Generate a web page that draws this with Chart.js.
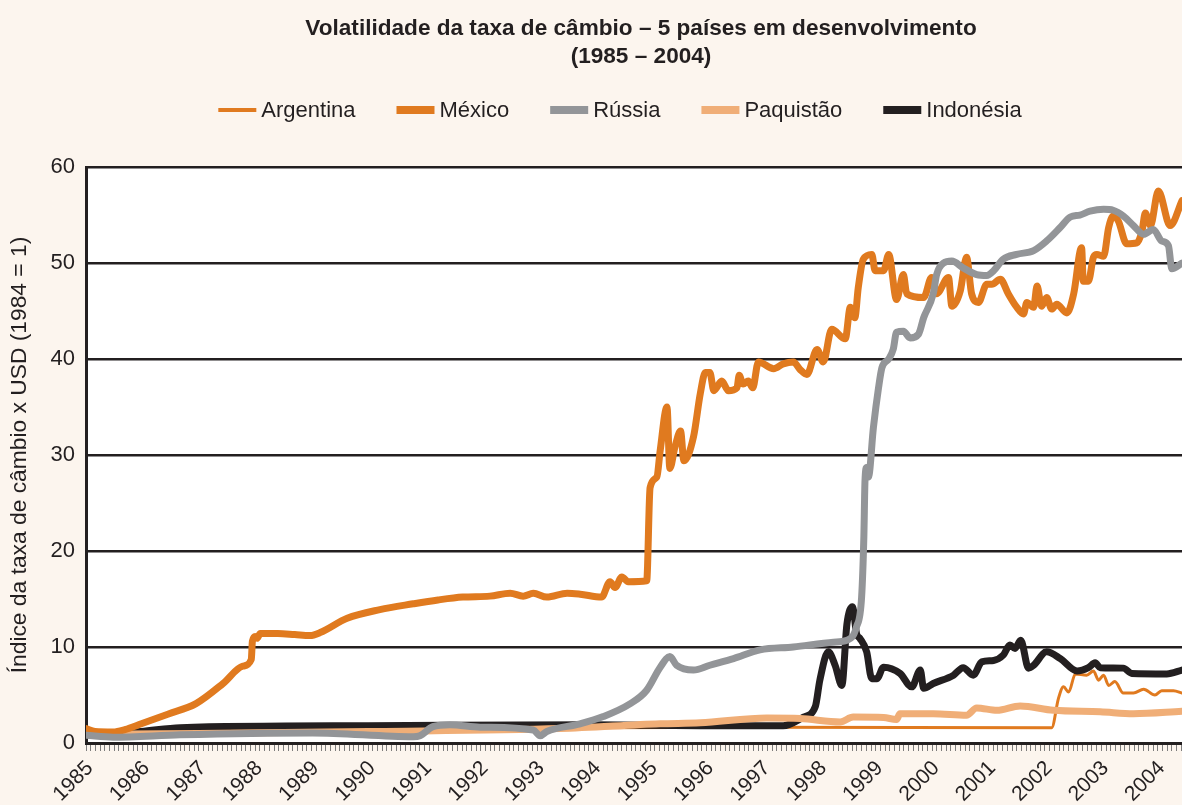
<!DOCTYPE html>
<html lang="pt">
<head>
<meta charset="utf-8">
<title>Volatilidade da taxa de câmbio</title>
<script src="https://cdn.jsdelivr.net/npm/chart.js@4.4.1/dist/chart.umd.min.js"></script>
<style>
  html, body { margin: 0; padding: 0; background: #fcf5ee; overflow: hidden; }
  #wrap { position: relative; width: 1182px; height: 805px; }
</style>
</head>
<body>
<div id="wrap"><canvas id="fxChart" width="1182" height="805"></canvas></div>
<script>
// Data (x = year as decimal, y = index 1984 = 1)
const yearLabels = ['1985', '1986', '1987', '1988', '1989', '1990', '1991', '1992', '1993', '1994',
                    '1995', '1996', '1997', '1998', '1999', '2000', '2001', '2002', '2003', '2004'];
const yTicks = [0, 10, 20, 30, 40, 50, 60];

const argentinaX = [1985.0, 1986.0, 1988.0, 1991.0, 1994.0, 1997.0, 2002.12, 2002.24, 2002.33, 2002.42, 2002.54,
                    2002.74, 2002.86, 2002.95, 2003.04, 2003.13, 2003.24, 2003.39, 2003.57, 2003.75, 2003.95,
                    2004.07, 2004.28, 2004.43];
const argentinaY = [1.2, 1.1, 1.2, 1.5, 1.6, 1.65, 1.6, 4.65, 5.85, 5.3, 7.2,
                    7.07, 7.5, 6.55, 7.07, 6.0, 6.4, 5.2, 5.2, 5.6, 5.0,
                    5.45, 5.45, 5.2];

const mexicoX = [1985.0, 1985.16, 1985.48, 1985.69, 1985.98, 1986.45, 1986.95, 1987.43, 1987.78, 1987.93, 1987.95,
                 1988.0, 1988.03, 1988.09, 1988.4, 1988.7, 1988.97, 1989.15, 1989.63, 1990.21, 1990.8, 1991.24,
                 1991.68, 1992.16, 1992.52, 1992.75, 1992.93, 1993.17, 1993.53, 1993.76, 1994.14, 1994.29,
                 1994.38, 1994.5, 1994.61, 1994.94, 1995.0, 1995.12, 1995.18, 1995.3, 1995.35, 1995.44,
                 1995.54, 1995.6, 1995.77, 1995.89, 1995.98, 1996.06, 1996.13, 1996.27, 1996.39, 1996.54,
                 1996.58, 1996.65, 1996.74, 1996.82, 1996.92, 1997.19, 1997.36, 1997.54, 1997.66, 1997.78,
                 1997.96, 1998.07, 1998.22, 1998.46, 1998.55, 1998.63, 1998.69, 1998.78, 1998.93, 1998.99,
                 1999.14, 1999.23, 1999.37, 1999.49, 1999.55, 1999.85, 1999.99, 2000.08, 2000.29, 2000.35,
                 2000.5, 2000.61, 2000.7, 2000.82, 2000.97, 2001.06, 2001.21, 2001.35, 2001.5, 2001.62,
                 2001.68, 2001.8, 2001.86, 2001.94, 2002.03, 2002.12, 2002.21, 2002.39, 2002.51, 2002.65,
                 2002.68, 2002.77, 2002.86, 2002.92, 2003.04, 2003.13, 2003.21, 2003.3, 2003.45, 2003.63,
                 2003.72, 2003.78, 2003.87, 2004.01, 2004.22, 2004.43];
const mexicoY = [1.5, 1.2, 1.15, 1.4, 2.0, 3.0, 4.1, 6.2, 8.0, 8.7, 10.6,
                 11.1, 10.9, 11.4, 11.4, 11.3, 11.2, 11.5, 13.0, 13.9, 14.5, 14.9,
                 15.2, 15.3, 15.6, 15.3, 15.6, 15.2, 15.6, 15.5, 15.2, 16.8,
                 16.2, 17.3, 16.8, 16.9, 26.6, 27.7, 30.5, 35.0, 28.6, 30.8,
                 32.5, 29.4, 31.9, 36.4, 38.6, 38.6, 36.7, 37.7, 36.7, 37.0,
                 38.3, 37.4, 37.7, 37.0, 39.7, 39.0, 39.5, 39.7, 38.9, 38.4,
                 41.0, 39.7, 43.1, 42.1, 45.4, 44.3, 47.4, 50.4, 50.9, 49.2,
                 49.2, 50.9, 46.2, 48.8, 46.8, 46.4, 48.5, 46.8, 48.5, 45.5,
                 47.1, 50.6, 46.8, 45.9, 47.8, 47.8, 48.3, 46.8, 45.4, 44.7,
                 45.9, 45.4, 47.6, 45.5, 46.4, 45.2, 45.7, 44.8, 46.8, 51.6,
                 48.1, 48.1, 50.6, 50.9, 50.7, 53.7, 54.9, 54.4, 52.0, 52.1,
                 53.3, 55.2, 53.9, 57.5, 53.9, 56.5];

const russiaX = [1985.0, 1985.48, 1986.67, 1989.02, 1990.8, 1990.92, 1991.15, 1991.45, 1991.99, 1992.93, 1993.05,
                 1993.17, 1993.76, 1994.17, 1994.65, 1994.94, 1995.18, 1995.35, 1995.47, 1995.77, 1996.06,
                 1996.48, 1996.95, 1997.54, 1998.25, 1998.49, 1998.66, 1998.75, 1998.79, 1998.81, 1998.84,
                 1998.87, 1998.96, 1999.05, 1999.11, 1999.23, 1999.31, 1999.37, 1999.49, 1999.61, 1999.76,
                 1999.85, 2000.02, 2000.08, 2000.2, 2000.35, 2000.55, 2000.79, 2000.97, 2001.09, 2001.26,
                 2001.5, 2001.8, 2002.03, 2002.27, 2002.45, 2002.62, 2002.8, 2003.04, 2003.21, 2003.39,
                 2003.57, 2003.75, 2003.92, 2004.07, 2004.19, 2004.25, 2004.43];
const russiaY = [0.8, 0.6, 0.85, 1.05, 0.65, 0.75, 1.7, 1.9, 1.65, 1.35, 0.75,
                 1.2, 2.0, 2.75, 4.1, 5.5, 7.9, 9.0, 8.1, 7.6, 8.1,
                 8.8, 9.7, 10.0, 10.5, 10.7, 12.1, 15.2, 21.5, 27.3, 28.7,
                 27.7, 32.9, 37.0, 39.1, 40.0, 41.0, 42.8, 42.9, 42.2, 42.6,
                 44.3, 46.8, 48.8, 50.0, 50.2, 49.5, 48.8, 48.7, 49.2, 50.4,
                 50.9, 51.3, 52.3, 53.7, 54.8, 55.0, 55.4, 55.6, 55.5, 54.9,
                 53.9, 53.0, 53.5, 52.3, 51.8, 49.4, 50.0];

const pakistanX = [1985.0, 1987.0, 1990.0, 1993.4, 1995.18, 1995.89, 1997.07, 1997.66, 1998.37, 1998.6, 1999.14,
                   1999.37, 1999.43, 2000.02, 2000.61, 2000.79, 2001.15, 2001.56, 2002.15, 2002.98, 2003.57,
                   2004.43];
const pakistanY = [0.9, 1.0, 1.2, 1.5, 2.0, 2.1, 2.6, 2.55, 2.2, 2.7, 2.65,
                   2.45, 3.05, 3.05, 2.9, 3.65, 3.4, 3.85, 3.4, 3.25, 3.05,
                   3.3];

const indonesiaX = [1985.0, 1985.48, 1985.98, 1986.67, 1990.0, 1994.0, 1995.89, 1997.36, 1997.72, 1997.93, 1998.01,
                    1998.16, 1998.28, 1998.4, 1998.49, 1998.59, 1998.66, 1998.72, 1998.84, 1998.93, 1999.02,
                    1999.14, 1999.43, 1999.64, 1999.79, 1999.85, 2000.02, 2000.38, 2000.55, 2000.73, 2000.88,
                    2001.09, 2001.26, 2001.38, 2001.47, 2001.57, 2001.71, 2001.8, 2002.03, 2002.27, 2002.57,
                    2002.77, 2002.89, 2002.98, 2003.39, 2003.54, 2004.16, 2004.43];
const indonesiaY = [0.9, 1.0, 1.2, 1.6, 1.8, 1.9, 1.8, 1.8, 2.7, 3.8, 6.55,
                    9.5, 8.1, 6.0, 12.4, 14.2, 11.4, 10.9, 9.5, 6.7, 6.7,
                    7.9, 7.25, 5.85, 7.6, 5.7, 6.2, 7.07, 7.85, 7.07, 8.45,
                    8.6, 9.15, 10.2, 9.85, 10.7, 7.8, 8.1, 9.5, 8.8, 7.5,
                    7.85, 8.35, 7.85, 7.8, 7.25, 7.2, 7.6];

const xMin = 1985;
const xMax = 2004.43;

const ink = '#231f20';
const font = 'Liberation Sans, Arial, Helvetica, sans-serif';

function points(xs, ys) {
    return xs.map((x, i) => ({ x: x, y: ys[i] }));
}

function series(label, xs, ys, color, width, order) {
    return {
        label: label,
        data: points(xs, ys),
        borderColor: color,
        backgroundColor: color,
        borderWidth: width,
        pointRadius: 0,
        cubicInterpolationMode: 'monotone',
        borderJoinStyle: 'round',
        borderCapStyle: 'round',
        order: order
    };
}

// white plotting area
const plotBackground = {
    id: 'plotBackground',
    beforeDraw(chart) {
        const a = chart.chartArea;
        chart.ctx.save();
        chart.ctx.fillStyle = '#ffffff';
        chart.ctx.fillRect(a.left, a.top, a.right - a.left, a.bottom - a.top);
        chart.ctx.restore();
    }
};

// the original title sits to the right of the window centre
const shiftTitle = {
    id: 'shiftTitle',
    afterLayout(chart) {
        if (chart.titleBlock) {
            chart.titleBlock.left += 50;
            chart.titleBlock.right += 50;
        }
    }
};

// legend row: bar marker + label, drawn in dataset order
const lineLegend = {
    id: 'lineLegend',
    afterDraw(chart) {
        const ctx = chart.ctx;
        const sets = chart.data.datasets;
        const markW = 38, gap = 5, spacing = 41, centreX = 620, y = 111;
        ctx.save();
        ctx.font = '22px ' + font;
        let total = 0;
        sets.forEach((d, i) => {
            total += markW + gap + ctx.measureText(d.label).width + (i ? spacing : 0);
        });
        let x = centreX - total / 2;
        ctx.textBaseline = 'middle';
        ctx.textAlign = 'left';
        sets.forEach(d => {
            const h = d.borderWidth + 1;
            ctx.fillStyle = d.borderColor;
            ctx.fillRect(x, y - 1 - h / 2, markW, h);
            x += markW + gap;
            ctx.fillStyle = ink;
            ctx.fillText(d.label, x, y);
            x += ctx.measureText(d.label).width + spacing;
        });
        ctx.restore();
    }
};

let chart = null;

function initChart() {
    const ctx = document.getElementById('fxChart').getContext('2d');

    chart = new Chart(ctx, {
        type: 'line',
        data: {
            datasets: [
                series('Argentina', argentinaX, argentinaY, '#e07a1f', 3, 5),
                series('México', mexicoX, mexicoY, '#e07a1f', 7, 2),
                series('Rússia', russiaX, russiaY, '#939598', 7, 1),
                series('Paquistão', pakistanX, pakistanY, '#f0ae77', 7, 3),
                series('Indonésia', indonesiaX, indonesiaY, ink, 7, 4)
            ]
        },
        options: {
            responsive: false,
            animation: false,
            layout: { padding: { left: 0, right: 0, top: 0, bottom: 0 } },
            plugins: {
                legend: { display: false },
                tooltip: { enabled: false },
                title: {
                    display: true,
                    text: ['Volatilidade da taxa de câmbio – 5 países em desenvolvimento', '(1985 – 2004)'],
                    color: ink,
                    font: { family: font, size: 22.6, weight: 'bold', lineHeight: 1.24 },
                    padding: { top: 15, bottom: 96 }
                }
            },
            scales: {
                x: {
                    type: 'linear',
                    min: xMin,
                    max: xMax,
                    afterBuildTicks: scale => {
                        const ticks = [];
                        for (let m = 0; xMin + m / 12 <= xMax + 1e-9; m++) {
                            ticks.push({ value: xMin + m / 12 });
                        }
                        scale.ticks = ticks;
                    },
                    afterFit: scale => {
                        scale.height = 62;
                        scale.paddingLeft = 0;
                        scale.paddingRight = 0;
                    },
                    ticks: {
                        autoSkip: false,
                        minRotation: 45,
                        maxRotation: 45,
                        padding: 5,
                        labelOffset: 4,
                        color: ink,
                        font: { family: font, size: 21 },
                        callback: (value, index) => index % 12 === 0 ? (yearLabels[index / 12] || '') : ''
                    },
                    grid: {
                        drawOnChartArea: false,
                        drawTicks: true,
                        tickLength: 8,
                        tickColor: '#7d7d7d',
                        tickWidth: 1
                    },
                    border: { color: ink, width: 3 }
                },
                y: {
                    min: 0,
                    max: 60,
                    afterBuildTicks: scale => {
                        scale.ticks = yTicks.map(v => ({ value: v }));
                    },
                    afterFit: scale => { scale.width = 86; },
                    ticks: {
                        padding: 11,
                        color: ink,
                        font: { family: font, size: 22 }
                    },
                    grid: {
                        color: ink,
                        lineWidth: 2.5,
                        drawTicks: false
                    },
                    border: { color: ink, width: 3 },
                    title: {
                        display: true,
                        text: 'Índice da taxa de câmbio x USD (1984 = 1)',
                        color: ink,
                        font: { family: font, size: 22.8 },
                        padding: { top: 6, bottom: 0 }
                    }
                }
            }
        },
        plugins: [plotBackground, shiftTitle, lineLegend]
    });
}

document.addEventListener('DOMContentLoaded', function() {
    initChart();
});
</script>
</body>
</html>
